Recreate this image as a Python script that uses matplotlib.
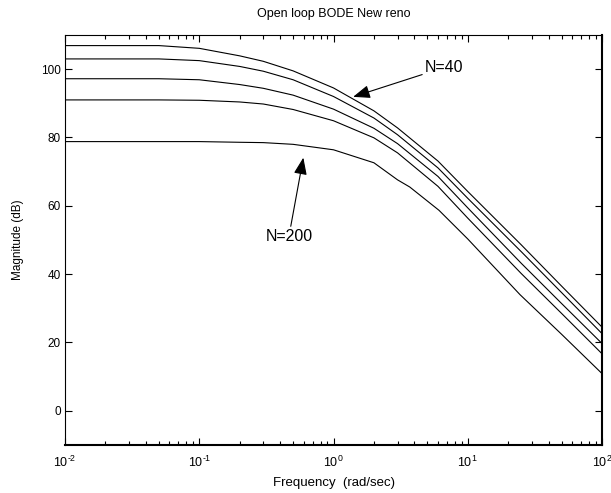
import numpy as np
import matplotlib.pyplot as plt
from matplotlib.ticker import FixedLocator, FixedFormatter, NullFormatter

plt.rcParams['font.family'] = ['Liberation Sans', 'DejaVu Sans']
plt.rcParams['mathtext.fontset'] = 'custom'
plt.rcParams['mathtext.rm'] = 'Liberation Sans'
plt.rcParams['mathtext.default'] = 'regular'

# values (rad/sec, dB)
freq = [0.01, 0.05, 0.1, 0.2, 0.3, 0.5, 1, 2, 3, 6, 10, 25, 50, 100]
mag_n40 = [106.9, 106.9, 106.1, 103.9, 102.3, 99.5, 94.5, 87.8, 82.8, 73.1, 64.2, 48.6, 36.5, 24.5]
mag_2 = [103.0, 103.0, 102.5, 100.8, 99.4, 96.9, 92.0, 85.7, 80.8, 71.1, 62.2, 46.6, 34.6, 22.6]
mag_3 = [97.2, 97.2, 96.9, 95.5, 94.4, 92.4, 88.3, 82.7, 78.2, 68.6, 59.4, 43.2, 31.4, 19.7]
mag_4 = [91.0, 91.0, 90.9, 90.4, 89.8, 88.2, 84.9, 79.9, 75.5, 65.7, 56.4, 40.2, 28.5, 16.7]
freq_n200 = [0.01, 0.05, 0.1, 0.2, 0.3, 0.5, 1, 2, 3, 3.7, 6.1, 10, 24.5, 50, 100]
mag_n200 = [78.8, 78.8, 78.8, 78.6, 78.5, 78.0, 76.4, 72.6, 67.6, 65.5, 58.7, 50.3, 34.0, 22.4, 10.9]

decades = [0.01, 0.1, 1, 10, 100]
decade_labels = [r'10$^{\text{-2}}$', r'10$^{\text{-1}}$', '10$^{0}$', '10$^{1}$', '10$^{2}$']
yticks = [0, 20, 40, 60, 80, 100]

fig = plt.figure(figsize=(6.11, 4.93), dpi=100)
ax = fig.add_axes([0.1064, 0.0974, 0.8789, 0.8316])

for m in [mag_n40, mag_2, mag_3, mag_4]:
    ax.plot(freq, m, color='black', lw=0.8)
ax.plot(freq_n200, mag_n200, color='black', lw=0.8)

ax.set_xscale('log')
ax.set_xlim(0.01, 100)
ax.set_ylim(-10, 110)

ax.xaxis.set_major_locator(FixedLocator(decades))
ax.xaxis.set_major_formatter(FixedFormatter(decade_labels))
minors = [k * d for d in decades[:-1] for k in range(2, 10)]
ax.xaxis.set_minor_locator(FixedLocator(minors))
ax.xaxis.set_minor_formatter(NullFormatter())
ax.set_yticks(yticks)

ax.tick_params(which='both', direction='in', top=True, right=True, width=0.8)
ax.tick_params(which='major', length=5)
ax.tick_params(which='minor', length=3)
ax.tick_params(axis='x', labelsize=9, pad=7)
ax.tick_params(axis='y', labelsize=8.5, pad=3)

for s in ['top', 'left']:
    ax.spines[s].set_linewidth(0.8)
for s in ['bottom', 'right']:
    ax.spines[s].set_linewidth(1.5)

ax.set_title('Open loop BODE New reno', fontsize=9, pad=13)
ax.set_xlabel('Frequency  (rad/sec)', fontsize=9.5, labelpad=5)
ax.set_ylabel('Magnitude (dB)', fontsize=8.5, labelpad=12)

arrow = dict(arrowstyle='-|>,head_length=0.9,head_width=0.35', color='black', lw=0.8, shrinkA=0, shrinkB=0)
ax.annotate('N=40', xy=(1.40, 91.9), xytext=(4.8, 100.5), fontsize=11.5,
            ha='left', va='center', arrowprops=arrow)
ax.annotate('N=200', xy=(0.596, 74.1), xytext=(0.465, 51.0), fontsize=11.5,
            ha='center', va='center', arrowprops=arrow)

fig.savefig('out.png', dpi=100)
